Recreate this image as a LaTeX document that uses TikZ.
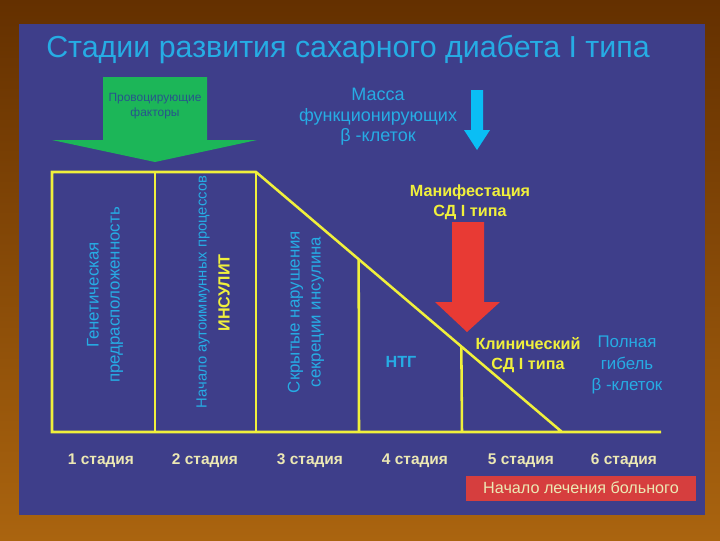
\documentclass[tikz,border=0pt]{standalone}
\usepackage{fontspec}
\setmainfont{Liberation Sans}
\usetikzlibrary{calc}

\definecolor{panelblue}{RGB}{62,62,138}
\definecolor{bgdark}{RGB}{100,48,0}
\definecolor{bglight}{RGB}{170,100,15}
\definecolor{skycyan}{RGB}{38,172,228}
\definecolor{stageyellow}{RGB}{240,240,60}
\definecolor{paleyellow}{RGB}{236,232,180}
\definecolor{factorgreen}{RGB}{28,182,88}
\definecolor{factorink}{RGB}{40,84,140}
\definecolor{manifestred}{RGB}{232,58,52}
\definecolor{treatred}{RGB}{214,62,62}
\definecolor{massarrow}{RGB}{10,190,245}

\tikzset{
    stageline/.style={stageyellow, line width=1.8pt},
    cyantext/.style={text=skycyan, align=center, font=\fontsize{12}{15}\selectfont},
    yellowtext/.style={text=stageyellow, align=center, font=\fontsize{11.5}{14.5}\selectfont\bfseries},
    stagelabel/.style={text=paleyellow, font=\fontsize{11}{13}\selectfont\bfseries},
}

\begin{document}
\begin{tikzpicture}[x=0.025cm, y=-0.025cm]
        \useasboundingbox (0,0) rectangle (720,540);
        % background and panel
        \shade[top color=bgdark, bottom color=bglight] (0,0) rectangle (720,540);
        \fill[panelblue] (19,24) rectangle (705,515);

        \node[text=skycyan, font=\fontsize{21.6}{26}\selectfont] (title) at (348,50) {Стадии развития сахарного диабета I типа};

        % arrows
        \fill[factorgreen] (103,77) -- (207,77) -- (207,140) -- (257,140) -- (155,162)
            -- (52,140) -- (103,140) -- cycle;
        \node[text=factorink, align=center, font=\fontsize{8.5}{10.5}\selectfont] (factors) at (155,106) {Провоцирующие\\факторы};

        \node[cyantext, font=\fontsize{12.8}{14.5}\selectfont] (mass) at (378,117) {Масса\\функционирующих\\β -клеток};
        \fill[massarrow] (471,90) -- (483,90) -- (483,130) -- (490,130) -- (477,150)
            -- (464,130) -- (471,130) -- cycle;

        \node[yellowtext] (manif) at (470,202) {Манифестация\\СД I типа};
        \fill[manifestred] (452,222) -- (484,222) -- (484,302) -- (500,302) -- (467,332)
            -- (435,302) -- (452,302) -- cycle;

        % stages frame
        \coordinate (A) at (52,172);
        \coordinate (B) at (256,172);
        \coordinate (C) at (562,432);
        \coordinate (D) at (52,432);
        \coordinate (E) at (661,432);
        \draw[stageline] (E) -- (D) -- (A) -- (B) -- (C);
        \draw[stageline] (155,172) -- (155,432);
        \draw[stageline] (B) -- (256,432);
        \draw[stageline] ($(B)!0.3355!(C)$) -- (359,432);
        \draw[stageline] ($(B)!0.671!(C)$) -- (462,432);

        % texts inside the stages
        \node[cyantext, rotate=90] (gene) at (105,295) {Генетическая\\предрасположенность};
        \node[text=skycyan, rotate=90, font=\fontsize{10.5}{13}\selectfont] (auto) at (203,292) {Начало аутоиммунных процессов};
        \node[text=stageyellow, rotate=90, font=\fontsize{11.5}{14}\selectfont\bfseries] (insul) at (224,293) {ИНСУЛИТ};
        \node[cyantext, rotate=90] (hidden) at (306,312) {Скрытые нарушения\\секреции инсулина};
        \node[text=skycyan, font=\fontsize{11.5}{14}\selectfont\bfseries] (ntg) at (401,362) {НТГ};
        \node[yellowtext] (clinic) at (528,355) {Клинический\\СД I типа};
        \node[cyantext] (death) at (627,365) {Полная\\гибель\\β -клеток};

        % stage names
        \foreach \n/\x in {1/101, 2/205, 3/310, 4/415, 5/521, 6/624}
            \node[stagelabel] (st\n) at (\x,461) {\n\ стадия};

        \node[fill=treatred, text=paleyellow, minimum width=230*0.025cm, minimum height=25*0.025cm,
            font=\fontsize{11.5}{14}\selectfont] (treat) at (581,488) {Начало лечения больного};
    \end{tikzpicture}
\end{document}
